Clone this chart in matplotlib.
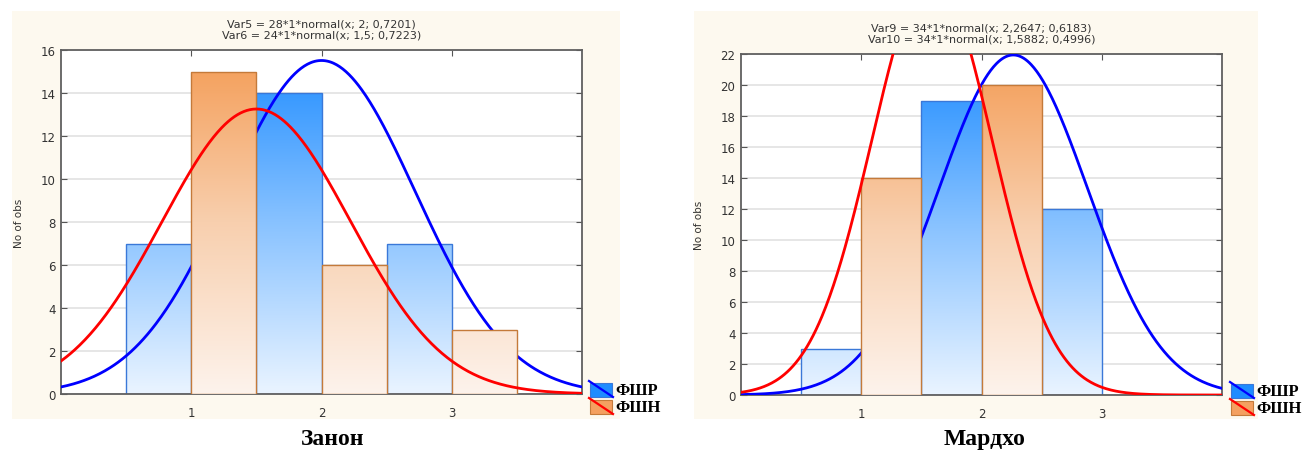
import numpy as np
import matplotlib
matplotlib.use("Agg")
import matplotlib.pyplot as plt
from matplotlib.colors import LinearSegmentedColormap
from matplotlib.patches import Rectangle
from matplotlib.lines import Line2D

# histogram bins (left edges) and counts
blue_left = [0.5, 1.5, 2.5]
orange_left = [1.0, 2.0, 3.0]
bar_w = 0.5

zanon_blue = [7, 14, 7]       # ФШР (Var5)
zanon_orange = [15, 6, 3]     # ФШН (Var6)
mardho_blue = [3, 19, 12]     # ФШР (Var9)
mardho_orange = [14, 20, 0]   # ФШН (Var10)

# fitted normal curves: N, mean, sd (from chart titles)
zanon_fit = [(28, 2.0, 0.7201), (24, 1.5, 0.7223)]
mardho_fit = [(34, 2.2647, 0.6183), (34, 1.5882, 0.4996)]
zanon_titles = ["Var5 = 28*1*normal(x; 2; 0,7201)", "Var6 = 24*1*normal(x; 1,5; 0,7223)"]
mardho_titles = ["Var9 = 34*1*normal(x; 2,2647; 0,6183)", "Var10 = 34*1*normal(x; 1,5882; 0,4996)"]

legend_labels = ["ФШР", "ФШН"]
names = ["Занон", "Мардхо"]

W, H = 1309, 452
fig = plt.figure(figsize=(W / 100, H / 100), dpi=100)
fig.patch.set_facecolor("white")


def fx(px):
    return px / W


def fy(py):
    return 1 - py / H


beige = "#fdf9ef"
blue_cmap = LinearSegmentedColormap.from_list("b", ["#eaf4ff", "#88c2ff", "#1e8cff"])
orange_cmap = LinearSegmentedColormap.from_list("o", ["#fdf3ec", "#f8cfae", "#f49c55"])


def draw(box, axbox, blue_vals, orange_vals, fits, titles, ymax, leg_x, leg_y, name, name_x):
    fig.add_artist(Rectangle((fx(box[0]), fy(box[3])), fx(box[2]) - fx(box[0]),
                             fy(box[1]) - fy(box[3]), transform=fig.transFigure,
                             facecolor=beige, edgecolor="none", zorder=0))
    ax = fig.add_axes([fx(axbox[0]), fy(axbox[3]), fx(axbox[2]) - fx(axbox[0]),
                       fy(axbox[1]) - fy(axbox[3])])
    ax.set_xlim(0, 4)
    ax.set_ylim(0, ymax)
    grad = np.linspace(0, 1, 256).reshape(-1, 1)

    def bars(lefts, vals, cmap, edge, z):
        for l, v in zip(lefts, vals):
            if v <= 0:
                continue
            r = Rectangle((l, 0), bar_w, v, facecolor="none", edgecolor=edge, lw=1.0, zorder=z + 0.1)
            ax.add_patch(r)
            im = ax.imshow(grad, extent=[0, 4, 0, ymax], origin="lower", aspect="auto",
                           cmap=cmap, zorder=z, interpolation="bilinear")
            im.set_clip_path(r)

    x = np.linspace(0, 4, 500)
    # blue bars, blue curve, orange bars, red curve (same stacking as the original)
    bars(blue_left, blue_vals, blue_cmap, "#3a78d8", 2)
    n, m, s = fits[0]
    ax.plot(x, n / (s * np.sqrt(2 * np.pi)) * np.exp(-(x - m) ** 2 / (2 * s ** 2)),
            color="#0000ff", lw=2.0, zorder=3)
    bars(orange_left, orange_vals, orange_cmap, "#c47a3a", 4)
    n, m, s = fits[1]
    ax.plot(x, n / (s * np.sqrt(2 * np.pi)) * np.exp(-(x - m) ** 2 / (2 * s ** 2)),
            color="#ff0000", lw=2.0, zorder=5)

    ax.set_yticks(np.arange(0, ymax + 1, 2))
    ax.set_xticks([1, 2, 3])
    ax.grid(axis="y", color="#e2e2e2", lw=1.2, zorder=0)
    ax.set_axisbelow(True)
    ax.tick_params(direction="in", length=4, color="#555555", labelsize=8.5,
                   labelcolor="#333333", top=True, right=True, bottom=False, pad=4)
    ax.tick_params(axis="x", pad=9)
    for sp in ax.spines.values():
        sp.set_color("#606060")
        sp.set_linewidth(1.3)
    ax.set_ylabel("No of obs", fontsize=7.5, color="#333333", labelpad=12)
    ax.set_title("\n".join(titles), fontsize=8, color="#333333", pad=9, linespacing=1.15)

    # legend: patch with a diagonal curve line
    cols = [("#1e8cff", "#3a78d8", "#0000ff"), ("#f4a060", "#c47a3a", "#ff0000")]
    for i, (fc, ec, lc) in enumerate(cols):
        y0 = leg_y + i * 17
        fig.add_artist(Rectangle((fx(leg_x), fy(y0 + 14)), fx(22), 14 / H,
                                 transform=fig.transFigure, facecolor=fc, edgecolor=ec, lw=0.8, zorder=6))
        fig.add_artist(Line2D([fx(leg_x - 1), fx(leg_x + 23)], [fy(y0 - 2), fy(y0 + 14)],
                              transform=fig.transFigure, color=lc, lw=1.6, zorder=7))
        fig.text(fx(leg_x + 25), fy(y0 + 7), legend_labels[i], fontsize=12, fontweight="bold",
                 family=["Liberation Serif", "DejaVu Serif"], va="center", ha="left")
    fig.text(fx(name_x), fy(440), name, fontsize=17, fontweight="bold",
             family=["Liberation Serif", "DejaVu Serif"], ha="center", va="center")
    return ax


draw((12, 12, 620, 420), (61, 51, 582, 395), zanon_blue, zanon_orange, zanon_fit,
     zanon_titles, 16, 590, 384, names[0], 333)
draw((694, 12, 1258, 420), (741, 55, 1222, 396), mardho_blue, mardho_orange, mardho_fit,
     mardho_titles, 22, 1231, 385, names[1], 985)

fig.savefig("out.png", dpi=100)
